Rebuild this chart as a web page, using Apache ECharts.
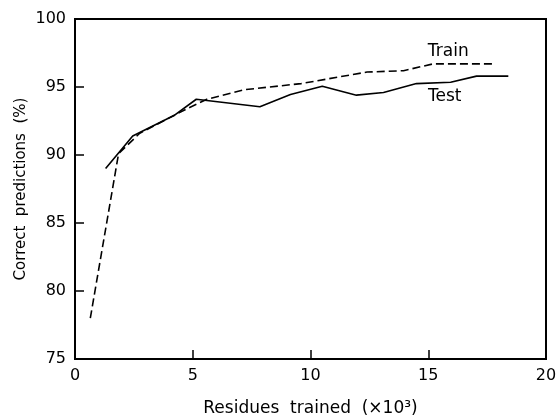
<!DOCTYPE html>
<html>
<head>
<meta charset="utf-8">
<script src="https://cdn.jsdelivr.net/npm/echarts@6/dist/echarts.min.js"></script>
<style>
  html, body { margin: 0; padding: 0; background: #fff; }
  #chart { width: 560px; height: 417px; }
</style>
</head>
<body>
<div id="chart"></div>
<script>
// Residues trained (thousands) vs. percentage of correct predictions
const testX = [1.3, 2.45, 4.2, 5.15, 7.85, 9.15, 10.5, 11.95, 13.1, 14.5, 15.95, 17.05, 18.4];
const testY = [89.0, 91.4, 92.9, 94.1, 93.55, 94.45, 95.05, 94.4, 94.6, 95.25, 95.35, 95.8, 95.8];

const trainX = [0.65, 1.85, 2.75, 4.75, 5.6, 7.2, 9.6, 12.4, 13.95, 15.2, 17.8];
const trainY = [78.0, 90.1, 91.6, 93.4, 94.1, 94.8, 95.25, 96.1, 96.2, 96.7, 96.7];

const xTicks = [0, 5, 10, 15, 20];
const yTicks = [75, 80, 85, 90, 95, 100];

// where the series names sit, in data units
const seriesLabels = [
  { name: 'Train', x: 15.85, y: 97.6 },
  { name: 'Test', x: 15.7, y: 94.3 }
];

const pair = (xs, ys) => xs.map((x, i) => [x, ys[i]]);
const font = '"DejaVu Sans", sans-serif';

const chart = echarts.init(document.getElementById('chart'), null, { renderer: 'canvas' });

chart.setOption({
  animation: false,
  backgroundColor: '#fff',
  grid: {
    left: 75, right: 14, top: 19, bottom: 58,
    containLabel: false, outerBoundsMode: 'none',
    show: true, borderColor: '#000', borderWidth: 2, backgroundColor: 'transparent'
  },
  xAxis: {
    type: 'value',
    min: xTicks[0], max: xTicks[xTicks.length - 1], interval: 5,
    name: 'Residues  trained  (×10³)',
    nameLocation: 'middle', nameGap: 41,
    nameTextStyle: { fontFamily: font, fontSize: 17, color: '#000' },
    axisLine: { show: true, lineStyle: { color: '#000', width: 2 } },
    axisTick: { show: true, inside: true, length: 9, lineStyle: { color: '#000', width: 1.5 } },
    axisLabel: { margin: 9, fontFamily: font, fontSize: 16, color: '#000' },
    splitLine: { show: false }
  },
  yAxis: {
    type: 'value',
    min: yTicks[0], max: yTicks[yTicks.length - 1], interval: 5,
    name: 'Correct  predictions  (%)',
    nameLocation: 'middle', nameGap: 46, nameRotate: 90,
    nameMoveOverlap: false,
    nameTextStyle: { fontFamily: font, fontSize: 15, color: '#000' },
    axisLine: { show: true, lineStyle: { color: '#000', width: 2 } },
    axisTick: { show: true, inside: true, length: 9, lineStyle: { color: '#000', width: 1.5 } },
    axisLabel: { margin: 9, fontFamily: font, fontSize: 16, color: '#000' },
    splitLine: { show: false }
  },
  series: [
    {
      name: 'Test',
      type: 'line',
      data: pair(testX, testY),
      showSymbol: false,
      lineStyle: { color: '#000', width: 1.6, type: 'solid' }
    },
    {
      name: 'Train',
      type: 'line',
      data: pair(trainX, trainY),
      showSymbol: false,
      lineStyle: { color: '#000', width: 1.6, type: [8, 4] }
    },
    {
      name: 'labels',
      type: 'scatter',
      symbol: 'circle',
      symbolSize: 1,
      itemStyle: { color: 'rgba(0,0,0,0)' },
      data: seriesLabels.map(d => ({ value: [d.x, d.y], name: d.name })),
      label: {
        show: true, position: 'inside', formatter: p => p.name,
        fontFamily: font, fontSize: 17, color: '#000', opacity: 1,
        textBorderWidth: 0
      },
      silent: true
    }
  ]
});
</script>
</body>
</html>
